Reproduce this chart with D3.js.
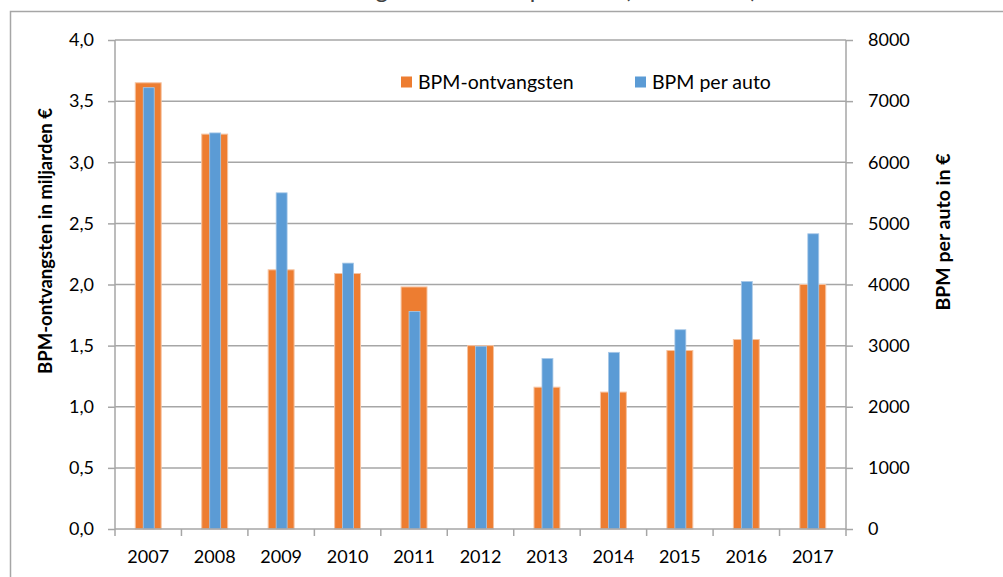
<!DOCTYPE html>
<html>
<head>
<meta charset="utf-8">
<script src="https://cdn.jsdelivr.net/npm/d3@7"></script>
<style>
  body { margin: 0; background: #fff; }
  text { font-family: Lato, "Open Sans", sans-serif; fill: #000; }
</style>
</head>
<body>
<svg id="chart" width="1003" height="577"></svg>
<script>
var years = ["2007", "2008", "2009", "2010", "2011", "2012", "2013", "2014", "2015", "2016", "2017"];
// BPM-ontvangsten, miljarden euro (left axis)
var ontvangsten = [3.65, 3.23, 2.12, 2.09, 1.98, 1.5, 1.16, 1.12, 1.46, 1.55, 2.0];
// BPM per auto, euro (right axis)
var perAuto = [7220, 6480, 5500, 4350, 3560, 2990, 2790, 2890, 3260, 4050, 4830];
var leftTicks = [0, 0.5, 1, 1.5, 2, 2.5, 3, 3.5, 4];
var rightTicks = [0, 1000, 2000, 3000, 4000, 5000, 6000, 7000, 8000];
var seriesNames = ["BPM-ontvangsten", "BPM per auto"];

var colors = { orange: "#ed7d31", blue: "#5b9bd5", grid: "#a6a6a6", frame: "#a6a6a6" };

var margin = { top: 40, right: 157, bottom: 48, left: 115 },
  width = 1003 - margin.left - margin.right,
  height = 577 - margin.top - margin.bottom;

var svg = d3.select("#chart");

// outer frame (runs off the right and bottom edge)
svg.append("path")
  .attr("d", "M10.5,577 L10.5,11.5 L1003,11.5")
  .attr("fill", "none")
  .attr("stroke", colors.frame)
  .attr("stroke-width", 1.5);

// title, mostly above the visible area as in the original crop
svg.append("text")
  .attr("x", 757)
  .attr("y", -2)
  .attr("text-anchor", "end")
  .style("font-size", "24px")
  .style("fill", "#404040")
  .text("BPM-ontvangsten en BPM per auto (2007-2017)");

var g = svg.append("g")
  .attr("transform", "translate(" + margin.left + "," + margin.top + ")");

var x = d3.scaleBand().domain(years).range([0, width]);
var yLeft = d3.scaleLinear().domain([0, 4]).range([height, 0]);
var yRight = d3.scaleLinear().domain([0, 8000]).range([height, 0]);

// gridlines
g.selectAll(".grid")
  .data(leftTicks.filter(function(d) { return d > 0; }))
  .enter()
  .append("line")
  .attr("class", "grid")
  .attr("x1", 0)
  .attr("x2", width)
  .attr("y1", function(d) { return yLeft(d); })
  .attr("y2", function(d) { return yLeft(d); })
  .attr("stroke", colors.grid)
  .attr("stroke-width", 1.5);

var orangeW = x.bandwidth() * 0.39;
var blueW = x.bandwidth() * 0.165;

g.selectAll(".bar-o")
  .data(years)
  .enter()
  .append("rect")
  .attr("class", "bar-o")
  .attr("x", function(d) { return x(d) + (x.bandwidth() - orangeW) / 2; })
  .attr("y", function(d, i) { return yLeft(ontvangsten[i]); })
  .attr("width", orangeW)
  .attr("height", function(d, i) { return height - yLeft(ontvangsten[i]); })
  .attr("fill", colors.orange)
  .attr("stroke", "#f6c3a0")
  .attr("stroke-width", 1);

g.selectAll(".bar-b")
  .data(years)
  .enter()
  .append("rect")
  .attr("class", "bar-b")
  .attr("x", function(d) { return x(d) + (x.bandwidth() - blueW) / 2 + 0.5; })
  .attr("y", function(d, i) { return yRight(perAuto[i]); })
  .attr("width", blueW)
  .attr("height", function(d, i) { return height - yRight(perAuto[i]); })
  .attr("fill", colors.blue)
  .attr("stroke", "#a9c9e8")
  .attr("stroke-width", 0.8);

// axes
var fmtLeft = function(d) { return d3.format(".1f")(d).replace(".", ","); };

var leftAxis = g.append("g")
  .call(d3.axisLeft(yLeft).tickValues(leftTicks).tickFormat(fmtLeft).tickSize(7).tickPadding(14));

var rightAxis = g.append("g")
  .attr("transform", "translate(" + width + ",0)")
  .call(d3.axisRight(yRight).tickValues(rightTicks).tickFormat(d3.format("d")).tickSize(7).tickPadding(15));

var xAxis = g.append("g")
  .attr("transform", "translate(0," + height + ")")
  .call(d3.axisBottom(x).tickSize(0).tickPadding(21));

// tick marks at band boundaries
xAxis.selectAll(".bound")
  .data(years.concat(["end"]))
  .enter()
  .append("line")
  .attr("class", "bound")
  .attr("x1", function(d, i) { return i * x.step(); })
  .attr("x2", function(d, i) { return i * x.step(); })
  .attr("y1", 0)
  .attr("y2", 7)
  .attr("stroke", colors.grid)
  .attr("stroke-width", 1.5);

[leftAxis, rightAxis, xAxis].forEach(function(a) {
  a.selectAll(".domain").attr("stroke", colors.grid).attr("stroke-width", 1.5);
  a.selectAll(".tick line").attr("stroke", colors.grid).attr("stroke-width", 1.5);
  a.selectAll(".tick text").style("font-size", "18px").style("font-family", "Lato").attr("fill", "#000");
});
xAxis.select(".domain").attr("d", "M0,0H" + width);
leftAxis.select(".domain").attr("d", "M0," + height + "V0");
rightAxis.select(".domain").attr("d", "M0," + height + "V0");

// axis titles
svg.append("text")
  .attr("transform", "translate(52,241) rotate(-90)")
  .attr("text-anchor", "middle")
  .style("font-size", "18.5px")
  .style("font-weight", "bold")
  .text("BPM-ontvangsten in miljarden €");

svg.append("text")
  .attr("transform", "translate(950,232) rotate(-90)")
  .attr("text-anchor", "middle")
  .style("font-size", "19.5px")
  .style("font-weight", "bold")
  .text("BPM per auto in €");

// legend
var legend = svg.append("g");
var legendX = [401, 635];
var legendColors = [colors.orange, colors.blue];
seriesNames.forEach(function(name, i) {
  legend.append("rect")
    .attr("x", legendX[i])
    .attr("y", 76.5)
    .attr("width", 11)
    .attr("height", 11)
    .attr("fill", legendColors[i]);
  legend.append("text")
    .attr("x", legendX[i] + 17)
    .attr("y", 88.5)
    .style("font-size", "19.5px")
    .text(name);
});
</script>
</body>
</html>
